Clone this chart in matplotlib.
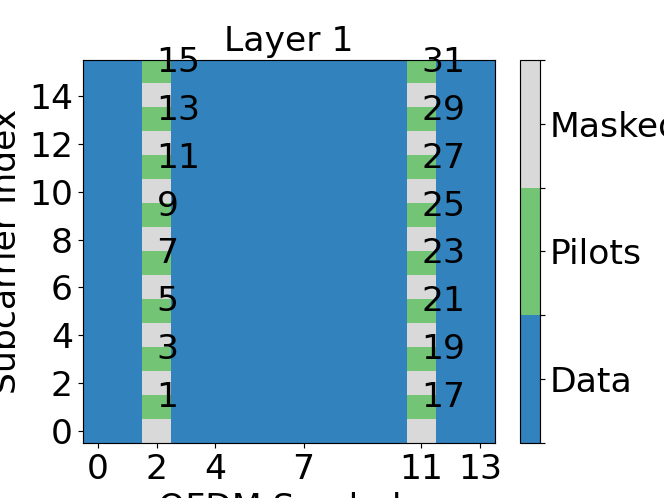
import numpy as np
import matplotlib
matplotlib.use("Agg")
import matplotlib.pyplot as plt
from matplotlib import colors

plt.rcParams['font.size'] = 24
plt.rcParams['axes.titlesize'] = 24

num_ofdm_symbols = 14
num_subcarriers = 16
pilot_symbols = [2, 11]
pilot_subcarriers = [1, 3, 5, 7, 9, 11, 13, 15]
masked_subcarriers = [0, 2, 4, 6, 8, 10, 12, 14]
pilot_ids = {2: [1, 3, 5, 7, 9, 11, 13, 15],
             11: [17, 19, 21, 23, 25, 27, 29, 31]}
legend = ["Data", "Pilots", "Masked"]
xticks = [0, 2, 4, 7, 11, 13]
yticks = [0, 2, 4, 6, 8, 10, 12, 14]

# 0 = data, 1 = pilot, 2 = masked (zero pilot)
q = np.zeros((num_ofdm_symbols, num_subcarriers))
for t in pilot_symbols:
    q[t, pilot_subcarriers] = 1
    q[t, masked_subcarriers] = 2

cmap = colors.ListedColormap(['#3182bd', '#74c476', '#d9d9d9'])

fig = plt.figure(figsize=(6.4, 4.8), dpi=103.75)
plt.title("Layer 1")
plt.xlabel("OFDM Symbols")
plt.ylabel("Subcarrier Index")
plt.xticks(xticks)
plt.yticks(yticks)
plt.imshow(np.transpose(q), cmap=cmap, vmin=0, vmax=3, origin="lower", aspect="auto")
cbar = plt.colorbar(ticks=[0, 0.5, 1, 1.5, 2, 2.5, 3])
cbar.set_ticklabels(["", legend[0], "", legend[1], "", legend[2], ""])

for t in pilot_symbols:
    for k, c in zip(pilot_subcarriers, pilot_ids[t]):
        plt.annotate(c, [t, k])

plt.savefig("out.png")
